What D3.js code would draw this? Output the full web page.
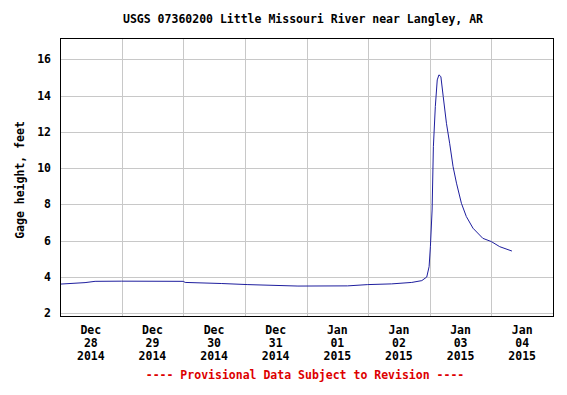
<!DOCTYPE html>
<html>
<head>
<meta charset="utf-8">
<script src="https://cdn.jsdelivr.net/npm/d3@7"></script>
<style>
  body { margin: 0; background: #fff; }
  text { font-family: "DejaVu Sans Mono", "Liberation Mono", monospace; font-weight: bold; }
</style>
</head>
<body>
<svg id="chart"></svg>
<script>
// gage height readings (time, feet)
var times = [
  "2014-12-28 00:15", "2014-12-28 09:45", "2014-12-28 13:40", "2014-12-29 00:00",
  "2014-12-30 00:00", "2014-12-30 00:45", "2014-12-30 15:00", "2014-12-31 01:10",
  "2014-12-31 20:40", "2015-01-01 16:00", "2015-01-01 23:50", "2015-01-02 09:10",
  "2015-01-02 17:00", "2015-01-02 20:55", "2015-01-02 22:50", "2015-01-02 23:45",
  "2015-01-03 00:15", "2015-01-03 00:55", "2015-01-03 01:25", "2015-01-03 02:10",
  "2015-01-03 02:55", "2015-01-03 03:35", "2015-01-03 04:20", "2015-01-03 05:15",
  "2015-01-03 06:30", "2015-01-03 07:45", "2015-01-03 09:05", "2015-01-03 10:25",
  "2015-01-03 12:20", "2015-01-03 14:15", "2015-01-03 16:50", "2015-01-03 20:40",
  "2015-01-04 00:00", "2015-01-04 03:15", "2015-01-04 08:00"
];
var heights = [
  3.61, 3.69, 3.76, 3.77,
  3.76, 3.70, 3.64, 3.58,
  3.50, 3.51, 3.58, 3.62,
  3.70, 3.80, 4.00, 4.57,
  5.67, 7.69, 11.18, 13.39,
  14.86, 15.14, 15.04, 13.94,
  12.47, 11.37, 10.08, 9.17,
  8.06, 7.33, 6.69, 6.13,
  5.95, 5.67, 5.43
];
var yTicks = [2, 4, 6, 8, 10, 12, 14, 16];
var dayLabels = [
  ["Dec", "28", "2014"], ["Dec", "29", "2014"], ["Dec", "30", "2014"], ["Dec", "31", "2014"],
  ["Jan", "01", "2015"], ["Jan", "02", "2015"], ["Jan", "03", "2015"], ["Jan", "04", "2015"]
];

var parseTime = d3.timeParse("%Y-%m-%d %H:%M");
var data = times.map(function(t, i) { return {time: parseTime(t), h: heights[i]}; });

var W = 567, H = 395;
var margin = {top: 38, right: 14, bottom: 79, left: 60},
    width = W - margin.left - margin.right,
    height = H - margin.top - margin.bottom;

var svg = d3.select("#chart").attr("width", W).attr("height", H);

// title
svg.append("text")
  .attr("x", 123).attr("y", 23)
  .style("font-size", "11.5px")
  .text("USGS 07360200 Little Missouri River near Langley, AR");

var g = svg.append("g")
  .attr("transform", "translate(" + margin.left + "," + margin.top + ")");

var x = d3.scaleTime()
  .domain([parseTime("2014-12-28 00:00"), parseTime("2015-01-05 00:00")])
  .range([0, width]);
var y = d3.scaleLinear().domain([1.85, 17.17]).range([height, 0]);

// grid lines
var midnights = d3.timeDay.range(parseTime("2014-12-29 00:00"), parseTime("2015-01-05 00:00"));
g.append("g").selectAll("line").data(midnights).join("line")
  .attr("x1", d => Math.round(x(d)) + 0.5).attr("x2", d => Math.round(x(d)) + 0.5)
  .attr("y1", 0).attr("y2", height)
  .attr("stroke", "#c8c8c8");
g.append("g").selectAll("line").data(yTicks).join("line")
  .attr("x1", 0).attr("x2", width)
  .attr("y1", d => Math.round(y(d)) + 0.5).attr("y2", d => Math.round(y(d)) + 0.5)
  .attr("stroke", "#c8c8c8");

// y axis labels
g.append("g").selectAll("text").data(yTicks).join("text")
  .attr("x", -9).attr("y", d => y(d) + 4)
  .attr("text-anchor", "end")
  .style("font-size", "11.5px")
  .text(d => d);

// x axis labels, centred on noon
var noons = dayLabels.map(function(d, i) { return d3.timeHour.offset(parseTime("2014-12-28 12:00"), 24 * i); });
var xl = g.append("g").selectAll("text").data(dayLabels).join("text")
  .attr("text-anchor", "middle")
  .attr("transform", (d, i) => "translate(" + x(noons[i]) + "," + (height + 18) + ")")
  .style("font-size", "11.5px");
xl.selectAll("tspan").data(d => d).join("tspan")
  .attr("x", 0).attr("dy", (d, i) => i == 0 ? 0 : 13)
  .text(d => d);

// the line
var line = d3.line()
  .x(d => x(d.time))
  .y(d => y(d.h));
g.append("path")
  .datum(data)
  .attr("fill", "none")
  .attr("stroke", "#1e1e9e")
  .attr("stroke-width", 1)
  .attr("d", line);

// frame
g.append("rect")
  .attr("x", 0.5).attr("y", 0.5)
  .attr("width", width).attr("height", height)
  .attr("fill", "none").attr("stroke", "#000");

// y title
svg.append("text")
  .attr("transform", "translate(24,180) rotate(-90)")
  .attr("text-anchor", "middle")
  .style("font-size", "11.5px")
  .text("Gage height, feet");

// footnote
svg.append("text")
  .attr("x", 305).attr("y", 379)
  .attr("text-anchor", "middle")
  .attr("fill", "#dd0000")
  .style("font-size", "11.5px")
  .text("---- Provisional Data Subject to Revision ----");
</script>
</body>
</html>
